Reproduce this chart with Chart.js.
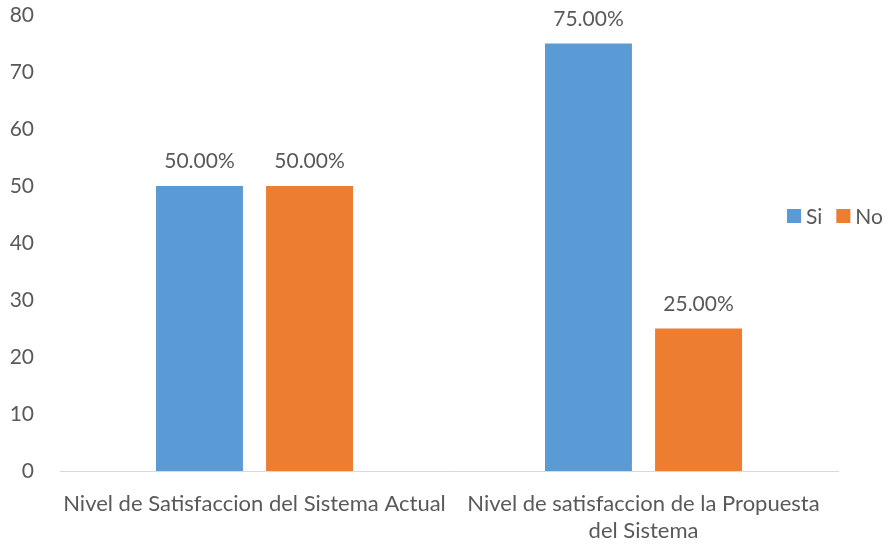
<!DOCTYPE html>
<html>
<head>
<meta charset="utf-8">
<script src="https://cdn.jsdelivr.net/npm/chart.js@4"></script>
<style>
  html, body { margin: 0; padding: 0; background: #fff; }
  #wrap { width: 888px; height: 545px; }
</style>
</head>
<body>
<div id="wrap"><canvas id="c" width="888" height="545"></canvas></div>
<script>
const categories = [
  'Nivel de Satisfaccion del Sistema Actual',
  ['Nivel de satisfaccion de la Propuesta', 'del Sistema']
];
const siValues = [50, 75];
const noValues = [50, 25];
const yTicks = [0, 10, 20, 30, 40, 50, 60, 70, 80];

const textColor = '#595959';
const fontFam = 'Lato, "Open Sans", sans-serif';

// value labels above bars
const valueLabels = {
  id: 'valueLabels',
  afterDatasetsDraw(chart) {
    const ctx = chart.ctx;
    ctx.save();
    ctx.fillStyle = textColor;
    ctx.font = '21px ' + fontFam;
    ctx.textAlign = 'center';
    ctx.textBaseline = 'bottom';
    chart.data.datasets.forEach((ds, i) => {
      chart.getDatasetMeta(i).data.forEach((bar, j) => {
        ctx.fillText(ds.data[j].toFixed(2) + '%', bar.x, bar.y - 14);
      });
    });
    ctx.restore();
  }
};

// legend drawn at the right, Excel style
const sideLegend = {
  id: 'sideLegend',
  afterDraw(chart) {
    const ctx = chart.ctx;
    ctx.save();
    ctx.font = '21px ' + fontFam;
    ctx.textBaseline = 'middle';
    let x = 787;
    const y = 216;
    chart.data.datasets.forEach(ds => {
      ctx.fillStyle = ds.backgroundColor;
      ctx.fillRect(x, y - 7, 14, 14);
      ctx.fillStyle = textColor;
      ctx.fillText(ds.label, x + 19, y + 1);
      x += 19 + ctx.measureText(ds.label).width + 14;
    });
    ctx.restore();
  }
};

new Chart(document.getElementById('c'), {
  type: 'bar',
  data: {
    labels: categories,
    datasets: [
      { label: 'Si', data: siValues, backgroundColor: '#5B9BD5' },
      { label: 'No', data: noValues, backgroundColor: '#ED7D31' }
    ]
  },
  options: {
    responsive: false,
    animation: false,
    layout: { padding: { top: 15, right: 50, left: 0, bottom: 0 } },
    datasets: { bar: { categoryPercentage: 0.566, barPercentage: 0.79 } },
    plugins: { legend: { display: false }, tooltip: { enabled: false } },
    scales: {
      x: {
        grid: { display: false },
        border: { display: true, color: '#D9D9D9', width: 1 },
        ticks: { color: textColor, font: { family: fontFam, size: 22, lineHeight: 1.25 }, maxRotation: 0, autoSkip: false, padding: 11 },
        afterFit(scale) { scale.height = 74; scale.paddingLeft = 0; scale.paddingRight = 0; }
      },
      y: {
        min: 0, max: 80,
        afterBuildTicks(scale) { scale.ticks = yTicks.map(v => ({ value: v })); },
        grid: { display: false },
        border: { display: false },
        ticks: { color: textColor, font: { family: fontFam, size: 21 }, padding: 18 },
        afterFit(scale) { scale.width = 60; scale.paddingTop = 0; scale.paddingBottom = 0; }
      }
    }
  },
  plugins: [valueLabels, sideLegend]
});
</script>
</body>
</html>
